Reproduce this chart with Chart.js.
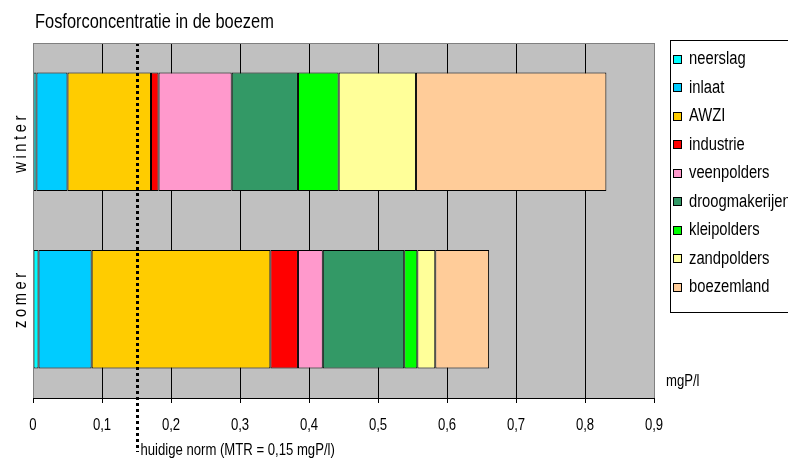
<!DOCTYPE html>
<html>
<head>
<meta charset="utf-8">
<script src="https://cdn.jsdelivr.net/npm/chart.js"></script>
<style>
  body { margin: 0; background: #fff; }
  #wrap { width: 788px; height: 463px; }
</style>
</head>
<body>
<div id="wrap"><canvas id="chart" width="788" height="463"></canvas></div>
<script>
const categories = ["winter", "zomer"];
const sources = ["neerslag", "inlaat", "AWZI", "industrie", "veenpolders", "droogmakerijen", "kleipolders", "zandpolders", "boezemland"];
const winterValues = [0.005, 0.045, 0.121, 0.011, 0.106, 0.096, 0.059, 0.112, 0.276];
const zomerValues = [0.008, 0.077, 0.259, 0.040, 0.036, 0.118, 0.019, 0.026, 0.078];
const sourceColors = ["#00FFFF", "#00CCFF", "#FFCC00", "#FF0000", "#FF99CC", "#339966", "#00FF00", "#FFFF99", "#FFCC99"];
const tickLabels = ["0", "0,1", "0,2", "0,3", "0,4", "0,5", "0,6", "0,7", "0,8", "0,9"];
const normValue = 0.15;
const normLabel = "huidige norm (MTR = 0,15 mgP/l)";
const unitLabel = "mgP/l";
const titleText = "Fosforconcentratie in de boezem";

const FONT = "'Liberation Sans', Arial, sans-serif";
const SQUEEZE = 0.82; // the original text is narrow (Arial Narrow look)

const datasets = sources.map(function(name, i) {
  return {
    label: name,
    data: [winterValues[i], zomerValues[i]],
    backgroundColor: sourceColors[i],
    borderColor: "#000",
    borderWidth: 1,
    borderSkipped: false,
    barPercentage: 0.668,
    categoryPercentage: 1
  };
});

function narrowText(ctx, text, x, y, size, align, angle, spacing) {
  ctx.save();
  ctx.font = size + "px " + FONT;
  ctx.fillStyle = "#000";
  ctx.textAlign = align;
  ctx.textBaseline = "middle";
  if (spacing) ctx.letterSpacing = spacing + "px";
  ctx.translate(x, y);
  if (angle) ctx.rotate(angle);
  ctx.scale(SQUEEZE, 1);
  ctx.fillText(text, 0, 0);
  ctx.restore();
}

// grey plot background + left/top/right frame
const plotBackground = {
  id: "plotBackground",
  beforeDraw(chart) {
    const { ctx, chartArea: a } = chart;
    ctx.save();
    ctx.fillStyle = "#C0C0C0";
    ctx.fillRect(a.left, a.top, a.right - a.left, a.bottom - a.top);
    ctx.restore();
  },
  afterDraw(chart) {
    const { ctx, chartArea: a } = chart;
    ctx.save();
    ctx.strokeStyle = "#808080";
    ctx.lineWidth = 1;
    ctx.beginPath();
    ctx.moveTo(Math.round(a.left) + 0.5, a.bottom);
    ctx.lineTo(Math.round(a.left) + 0.5, a.top + 0.5);
    ctx.lineTo(Math.round(a.right) + 0.5, a.top + 0.5);
    ctx.lineTo(Math.round(a.right) + 0.5, a.bottom);
    ctx.stroke();
    ctx.restore();
  }
};

// texts, norm line and legend
const extras = {
  id: "extras",
  afterDatasetsDraw(chart) {
    const { ctx, chartArea: a, scales } = chart;

    narrowText(ctx, titleText, 35, 22, 20, "left");

    // x tick labels from the scale's ticks
    scales.x.ticks.forEach(function(t, i) {
      narrowText(ctx, tickLabels[i], scales.x.getPixelForTick(i), 426, 16, "center");
    });
    narrowText(ctx, unitLabel, a.right + 12, 382, 16, "left");

    // norm line
    const x = Math.round(scales.x.getPixelForValue(normValue)) + 0.5;
    ctx.save();
    ctx.strokeStyle = "#000";
    ctx.lineWidth = 3;
    ctx.setLineDash([3, 3]);
    ctx.beginPath();
    ctx.moveTo(x, a.top);
    ctx.lineTo(x, 452);
    ctx.stroke();
    ctx.restore();
    narrowText(ctx, normLabel, x + 3, 451, 16, "left");

    // rotated, letter-spaced category labels (sit a little toward the middle in the original)
    const mid = (scales.y.getPixelForValue(0) + scales.y.getPixelForValue(categories.length - 1)) / 2;
    categories.forEach(function(c, i) {
      const y = scales.y.getPixelForValue(i);
      narrowText(ctx, c, 21, y + (mid - y) * 0.12, 18, "center", -Math.PI / 2, 4.3);
    });

    // legend box
    ctx.save();
    ctx.fillStyle = "#fff";
    ctx.strokeStyle = "#000";
    ctx.lineWidth = 1;
    ctx.fillRect(670.5, 40.5, 200, 272);
    ctx.strokeRect(670.5, 40.5, 200, 272);
    chart.data.datasets.forEach(function(ds, i) {
      const cy = 59.5 + i * 28.5;
      ctx.fillStyle = ds.backgroundColor;
      ctx.fillRect(673.5, Math.round(cy) - 4.5, 8, 8);
      ctx.strokeStyle = "#000";
      ctx.strokeRect(673.5, Math.round(cy) - 4.5, 8, 8);
      narrowText(ctx, ds.label, 689, cy, 18, "left");
    });
    ctx.restore();
  }
};

const chart = new Chart(document.getElementById("chart").getContext("2d"), {
  type: "bar",
  data: { labels: categories, datasets: datasets },
  options: {
    indexAxis: "y",
    responsive: false,
    animation: false,
    devicePixelRatio: 1,
    layout: { padding: { left: 33, right: 134, top: 43, bottom: 0 } },
    plugins: {
      legend: { display: false },
      tooltip: { enabled: false },
      title: { display: false }
    },
    scales: {
      x: {
        stacked: true,
        min: 0,
        max: 0.9,
        ticks: {
          stepSize: 0.1,
          display: false
        },
        grid: {
          color: function(c) {
            if (c.index === 0 || c.index === tickLabels.length - 1) return "#808080";
            return "#000";
          },
          lineWidth: 1,
          tickLength: 5,
          tickColor: "#000",
          drawTicks: true
        },
        border: { color: "#000", width: 1 },
        afterFit: function(scale) { scale.height = 65; }
      },
      y: {
        stacked: true,
        display: false
      }
    }
  },
  plugins: [plotBackground, extras]
});
</script>
</body>
</html>
